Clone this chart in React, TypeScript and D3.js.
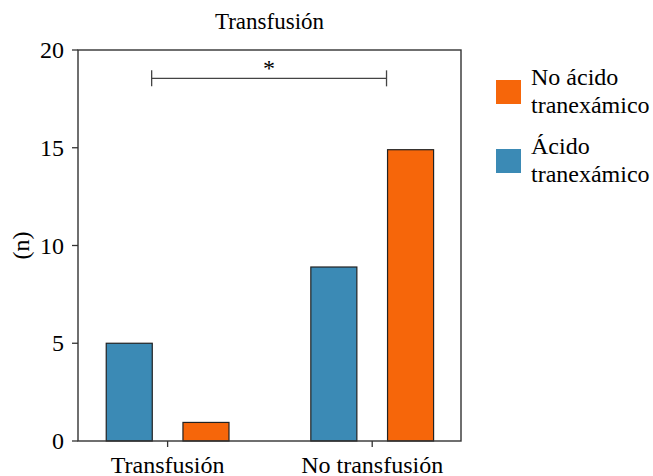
import * as d3 from 'd3';

const categories = ['Transfusión', 'No transfusión'];
const acidoValues = [5, 8.9];
const noAcidoValues = [0.95, 14.9];
const yTicks = [0, 5, 10, 15, 20];
const legendItems = [
  { lines: ['No ácido', 'tranexámico'], color: '#F6660A' },
  { lines: ['Ácido', 'tranexámico'], color: '#3B8AB5' },
];

const width = 653;
const height = 476;
const margin = { left: 78, right: 192, top: 50, bottom: 35 };
const font = "'Liberation Serif', 'Times New Roman', Times, serif";
const axisColor = '#333';

export default function App() {
  const x = d3
    .scaleLinear()
    .domain([-0.438, 1.434])
    .range([margin.left, width - margin.right]);
  const y = d3
    .scaleLinear()
    .domain([0, 20])
    .range([height - margin.bottom, margin.top]);

  const barW = x(0.225) - x(0);
  const offset = 0.1875;

  const bars = categories.flatMap((c, i) => [
    { key: `a${i}`, cx: i - offset, v: acidoValues[i], color: legendItems[1].color },
    { key: `n${i}`, cx: i + offset, v: noAcidoValues[i], color: legendItems[0].color },
  ]);

  const x0 = x.range()[0];
  const x1 = x.range()[1];
  const y0 = y.range()[0];
  const y1 = y.range()[1];

  // significance bracket
  const bL = x(-0.078);
  const bR = x(1.07);
  const bY = y(18.55);

  return (
    <svg
      width={width}
      height={height}
      style={{ position: 'absolute', left: 0, top: 0, background: '#fff', fontFamily: font }}
    >
      <text x={(x0 + x1) / 2} y={29} textAnchor="middle" fontSize={23}>
        Transfusión
      </text>

      {bars.map((b) => (
        <rect
          key={b.key}
          x={x(b.cx) - barW / 2}
          y={y(b.v)}
          width={barW}
          height={y(0) - y(b.v)}
          fill={b.color}
          stroke="#222"
          strokeWidth={1.2}
        />
      ))}

      {/* frame */}
      <rect
        x={x0}
        y={y1}
        width={x1 - x0}
        height={y0 - y1}
        fill="none"
        stroke={axisColor}
        strokeWidth={1.4}
      />

      {yTicks.map((t) => (
        <g key={t} transform={`translate(0,${y(t)})`}>
          <line x1={x0 - 6} x2={x0} stroke={axisColor} strokeWidth={1.3} />
          <text x={x0 - 14} dy="0.34em" textAnchor="end" fontSize={24}>
            {t}
          </text>
        </g>
      ))}

      {categories.map((c, i) => (
        <g key={c} transform={`translate(${x(i)},${y0})`}>
          <line y1={0} y2={6} stroke={axisColor} strokeWidth={1.3} />
          <text y={32} textAnchor="middle" fontSize={24}>
            {c}
          </text>
        </g>
      ))}

      <text
        transform={`translate(29,${(y0 + y1) / 2}) rotate(-90)`}
        textAnchor="middle"
        fontSize={24}
      >
        (n)
      </text>

      <g stroke="#444" strokeWidth={1.3}>
        <line x1={bL} x2={bR} y1={bY} y2={bY} />
        <line x1={bL} x2={bL} y1={bY - 8} y2={bY + 8} />
        <line x1={bR} x2={bR} y1={bY - 8} y2={bY + 8} />
      </g>
      <text x={(bL + bR) / 2} y={bY - 2} textAnchor="middle" fontSize={24}>
        *
      </text>

      {legendItems.map((l, i) => (
        <g key={i} transform={`translate(496,${80 + i * 69})`}>
          <rect width={25} height={24} fill={l.color} />
          {l.lines.map((ln, j) => (
            <text key={j} x={35} y={5 + j * 28} fontSize={24}>
              {ln}
            </text>
          ))}
        </g>
      ))}
    </svg>
  );
}
